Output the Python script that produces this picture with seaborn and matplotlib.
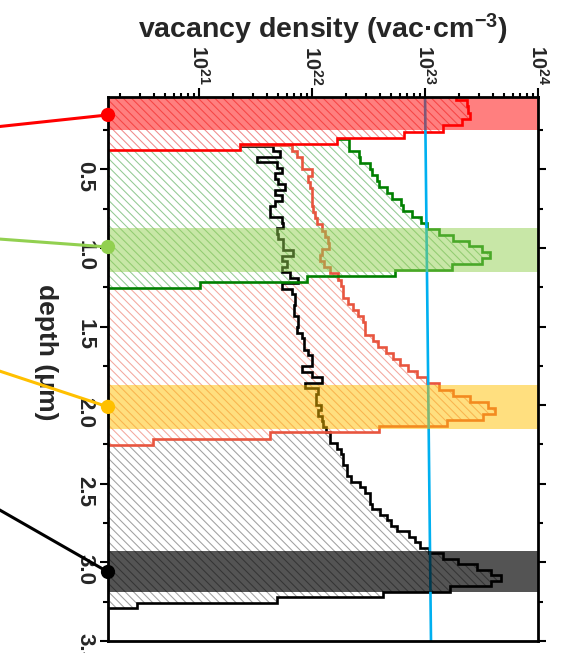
import numpy as np
import matplotlib
matplotlib.use("Agg")
import matplotlib.pyplot as plt
import matplotlib.ticker as mticker
import seaborn as sns

# ---------------- data ----------------
# vacancy density profiles (vac/cm^3), step histograms: first bin edge (um), bin width (um), values
red_start, red_bin = 0.02, 0.04
red_vac = [1.90e23, 2.34e23, 2.40e23, 2.51e23, 2.14e23, 1.45e23, 6.46e22, 1.66e22, 2.29e21]

green_start, green_bin = 0.3085, 0.0379
green_vac = [2.14e22, 2.14e22, 2.61e22, 2.66e22, 3.26e22, 3.37e22, 3.74e22, 3.94e22, 4.63e22,
             5.07e22, 6.10e22, 6.43e22, 7.62e22, 9.16e22, 1.035e23, 1.34e23, 1.78e23, 2.45e23,
             3.18e23, 3.76e23, 3.18e23, 1.72e23, 5.43e22, 9.04e21, 1.02e21]

orange_start, orange_bin = 0.345, 0.0389
orange_vac = [6.61e21, 7.32e21, 8.11e21, 8.11e21, 9.94e21, 9.27e21, 9.60e21, 9.94e21, 9.94e21, 1.01e22,
              1.03e22, 1.06e22, 1.11e22, 1.22e22, 1.30e22, 1.39e22, 1.42e22, 1.23e22, 1.18e22, 1.28e22,
              1.44e22, 1.71e22, 1.81e22, 1.89e22, 1.89e22, 2.10e22, 2.29e22, 2.57e22, 2.81e22, 2.94e22,
              2.94e22, 3.49e22, 3.86e22, 4.52e22, 5.24e22, 6.01e22, 7.11e22, 8.55e22, 1.035e23, 1.34e23,
              1.78e23, 2.50e23, 3.63e23, 4.16e23, 3.28e23, 1.56e23, 3.94e22, 4.25e21, 3.89e20]

black_start, black_bin = 0.351, 0.035
black_vac = [4.55e21, 5.21e21, 3.24e21, 4.87e21, 5.39e21, 4.71e21, 5.03e21, 5.77e21, 4.71e21, 5.39e21,
             4.71e21, 4.25e21, 4.25e21, 5.39e21, 5.57e21, 4.87e21, 5.00e21, 5.57e21, 5.57e21, 6.84e21,
             5.39e21, 5.97e21, 5.39e21, 6.38e21, 7.57e21, 5.39e21, 6.61e21, 7.08e21, 7.08e21, 6.93e21,
             6.93e21, 7.57e21, 7.57e21, 7.32e21, 8.11e21, 8.50e21, 8.50e21, 9.27e21, 9.94e21, 9.94e21,
             8.11e21, 9.94e21, 1.22e22, 8.67e21, 1.13e22, 1.08e22, 1.08e22, 1.20e22, 1.12e22, 1.22e22,
             1.26e22, 1.33e22, 1.44e22, 1.44e22, 1.66e22, 1.81e22, 1.88e22, 1.88e22, 2.03e22, 2.03e22,
             2.21e22, 2.66e22, 2.94e22, 3.26e22, 3.26e22, 3.38e22, 4.00e22, 4.58e22, 5.00e22, 5.71e22,
             7.21e22, 8.16e22, 9.04e22, 1.08e23, 1.43e23, 1.97e23, 2.87e23, 3.84e23, 4.71e23, 3.84e23,
             1.66e23, 4.28e22, 4.87e21, 2.81e20]

# reference line (nearly vertical, blue)
blue_depth = [0.0, 3.5]
blue_vac = [1.0e23, 1.13e23]

# highlighted depth windows (um)
band_lo = [0.0, 0.871, 1.871, 2.926]
band_hi = [0.25, 1.151, 2.151, 3.186]
band_colors = ["#FF0000", "#92D050", "#FFC000", "#000000"]
band_alpha = [0.5, 0.5, 0.5, 0.67]

# marker depths on the axis and leader-line start depths (at the figure edge)
marker_depth = [0.154, 0.994, 2.011, 3.061]
leader_depth = [0.230, 0.942, 1.776, 2.654]

depth_ticks = [0.5, 1.0, 1.5, 2.0, 2.5, 3.0, 3.5]
x_decades = [1e21, 1e22, 1e23, 1e24]

# ---------------- style ----------------
sns.set_theme(style="ticks")
plt.rcParams.update({
    "font.family": ["Liberation Sans", "DejaVu Sans"],
    "font.weight": "bold",
    "mathtext.fontset": "custom",
    "mathtext.rm": "Liberation Sans:bold",
    "mathtext.bf": "Liberation Sans:bold",
    "mathtext.it": "Liberation Sans:bold",
    "mathtext.default": "bf",
    "hatch.linewidth": 0.75,
    "axes.linewidth": 2.0,
})

fig = plt.figure(figsize=(5.65, 6.53), dpi=100)
ax = fig.add_axes([108 / 565, 12 / 653, 430 / 565, 544 / 653])
ax.set_facecolor("white")

XMIN, XMAX = 10 ** 20.195, 1e24
BASE = 1e19
HATCH = "\\\\\\\\"


def edges(start, bw, n):
    return start + bw * np.arange(n + 1)


series = [
    (black_vac, black_start, black_bin, "#A0A0A0", "#000000"),
    (orange_vac, orange_start, orange_bin, "#F4A89E", "#E8553F"),
    (green_vac, green_start, green_bin, "#93C993", "#008000"),
]

for vals, st, bw, hc, lc in series:
    ax.stairs(vals, edges(st, bw, len(vals)), baseline=BASE, orientation="horizontal",
              fill=True, facecolor="white", edgecolor=hc, hatch=HATCH, linewidth=0, zorder=1)
for vals, st, bw, hc, lc in series:
    ax.stairs(vals, edges(st, bw, len(vals)), baseline=BASE, orientation="horizontal",
              color=lc, linewidth=1.9, zorder=2)

ax.stairs(red_vac, edges(red_start, red_bin, len(red_vac)), baseline=BASE, orientation="horizontal",
          fill=True, facecolor="white", edgecolor="#F08A8A", hatch=HATCH, linewidth=0, zorder=3)
ax.stairs(red_vac, edges(red_start, red_bin, len(red_vac)), baseline=BASE, orientation="horizontal",
          color="#FF0000", linewidth=1.9, zorder=3.5)

sns.lineplot(x=blue_vac, y=blue_depth, orient="y", color="#00B0F0", linewidth=1.9, ax=ax, zorder=4)

for lo, hi, c, a in zip(band_lo, band_hi, band_colors, band_alpha):
    ax.axhspan(lo, hi, color=c, alpha=a, linewidth=0, zorder=5)

ax.set_xscale("log")
ax.set_xlim(XMIN, XMAX)
ax.set_ylim(3.5, 0.04)

# leader lines and markers at the left axis
ytrans = ax.get_yaxis_transform()
for d0, d1, c in zip(leader_depth, marker_depth, band_colors):
    ax.plot([-0.26, 0.0], [d0, d1], color=c, linewidth=2.2, transform=ytrans,
            clip_on=False, zorder=9, solid_capstyle="butt")
ax.scatter([0.0] * 4, marker_depth, c=band_colors, s=105, transform=ytrans,
           clip_on=False, zorder=10, edgecolors="none")

# axes / ticks
ax.xaxis.tick_top()
ax.xaxis.set_label_position("top")
ax.xaxis.set_major_locator(mticker.FixedLocator(x_decades))
ax.xaxis.set_minor_locator(mticker.LogLocator(base=10, subs=np.arange(2, 10), numticks=20))
ax.xaxis.set_minor_formatter(mticker.NullFormatter())
ax.xaxis.set_major_formatter(mticker.FuncFormatter(lambda v, p: r"$10^{%d}$" % round(np.log10(v))))
ax.tick_params(axis="x", which="both", top=True, bottom=False, direction="out",
               labelrotation=-90, labelsize=14.5, pad=2, width=1.5, color="black")
ax.tick_params(axis="x", which="major", length=6.5)
ax.tick_params(axis="x", which="minor", length=3.2)

ax.yaxis.set_major_locator(mticker.FixedLocator(depth_ticks))
ax.yaxis.set_minor_locator(mticker.MultipleLocator(0.25))
ax.yaxis.set_major_formatter(mticker.FormatStrFormatter("%.1f"))
ax.tick_params(axis="y", which="both", left=True, right=True, direction="out",
               labelrotation=-90, labelsize=16, pad=3, width=1.5, color="black")
ax.tick_params(axis="y", which="major", length=6)
ax.tick_params(axis="y", which="minor", length=3.5)

for sp in ax.spines.values():
    sp.set_visible(True)
    sp.set_color("black")
    sp.set_linewidth(2.0)
    sp.set_zorder(8)

ax.set_xlabel("vacancy density (vac·cm$^{-3}$)", fontsize=20.5, fontweight="bold", labelpad=5)
ax.set_ylabel("depth (μm)", fontsize=19, fontweight="bold", rotation=-90)
ax.yaxis.label.set_va("center")
ax.yaxis.set_label_coords(-0.145, 0.53)

fig.savefig("out.png", dpi=100)
